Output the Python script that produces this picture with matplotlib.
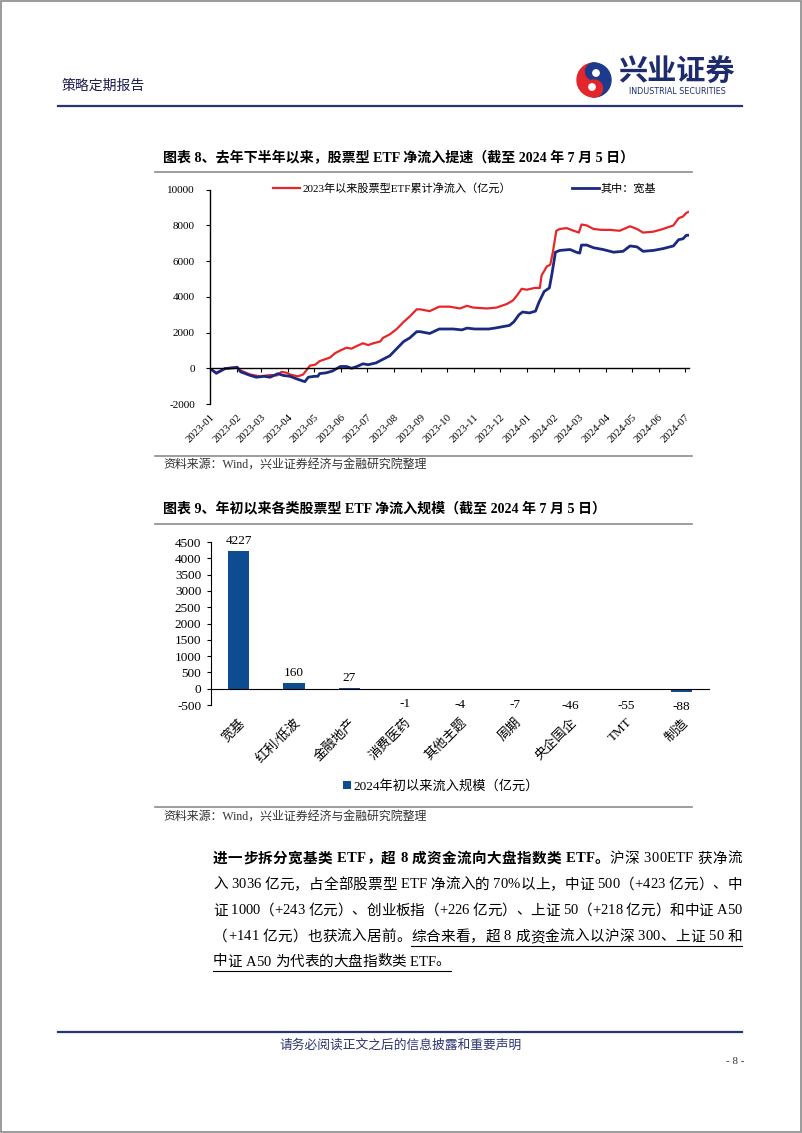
import matplotlib
matplotlib.use("Agg")
import numpy as np
import pandas as pd
import matplotlib.pyplot as plt
from matplotlib.patches import Wedge, Circle, Rectangle

W, H = 802, 1133
plt.rcParams['font.family'] = ['Liberation Serif', 'Noto Sans CJK SC']
plt.rcParams['axes.unicode_minus'] = False

# chart 8: cumulative net inflow of equity ETFs since 2023 (100m yuan)
red_dates = ['2023-01-03', '2023-01-08', '2023-01-18', '2023-01-29', '2023-02-01', '2023-02-04',
             '2023-02-16', '2023-02-27', '2023-03-11', '2023-03-19', '2023-03-24', '2023-03-30',
             '2023-04-03', '2023-04-12', '2023-04-18', '2023-04-22', '2023-04-26', '2023-05-02',
             '2023-05-07', '2023-05-13', '2023-05-19', '2023-05-25', '2023-05-31', '2023-06-07',
             '2023-06-13', '2023-06-19', '2023-06-26', '2023-07-02', '2023-07-08', '2023-07-16',
             '2023-07-19', '2023-07-27', '2023-08-04', '2023-08-12', '2023-08-19', '2023-08-27',
             '2023-08-31', '2023-09-11', '2023-09-22', '2023-10-04', '2023-10-16', '2023-10-24',
             '2023-10-31', '2023-11-16', '2023-11-27', '2023-12-09', '2023-12-16', '2023-12-21',
             '2023-12-26', '2024-01-01', '2024-01-10', '2024-01-16', '2024-01-18', '2024-01-24',
             '2024-01-28', '2024-01-31', '2024-02-04', '2024-02-08', '2024-02-16', '2024-02-24',
             '2024-03-01', '2024-03-04', '2024-03-10', '2024-03-18', '2024-03-27', '2024-04-06',
             '2024-04-17', '2024-04-29', '2024-05-07', '2024-05-14', '2024-05-26', '2024-06-06',
             '2024-06-18', '2024-06-24', '2024-06-29', '2024-07-03', '2024-07-05']
red_vals = [-100, -250, 0, 50, 80, -100, -350, -450, -380, -400, -200, -250,
            -350, -450, -350, -100, 150, 200, 400, 500, 600, 850, 1000, 1150,
            1100, 1250, 1400, 1300, 1400, 1500, 1700, 1900, 2200, 2600, 2900, 3300,
            3300, 3200, 3450, 3450, 3350, 3500, 3400, 3350, 3400, 3600, 3800, 4100,
            4450, 4400, 4500, 4500, 5200, 5700, 5800, 6500, 7700, 7800, 7850, 7700,
            7600, 8050, 8000, 7800, 7750, 7750, 7700, 7950, 7800, 7600, 7650, 7800,
            8000, 8400, 8500, 8700, 8750]

blue_dates = ['2023-01-03', '2023-01-08', '2023-01-18', '2023-01-29', '2023-02-01', '2023-02-05',
              '2023-02-16', '2023-02-23', '2023-03-04', '2023-03-11', '2023-03-20', '2023-03-26',
              '2023-04-03', '2023-04-11', '2023-04-20', '2023-04-24', '2023-05-01', '2023-05-05',
              '2023-05-07', '2023-05-15', '2023-05-22', '2023-05-31', '2023-06-07', '2023-06-13',
              '2023-06-19', '2023-06-26', '2023-07-02', '2023-07-11', '2023-07-19', '2023-07-27',
              '2023-08-04', '2023-08-12', '2023-08-19', '2023-08-27', '2023-08-31', '2023-09-11',
              '2023-09-22', '2023-10-08', '2023-10-18', '2023-10-24', '2023-11-02', '2023-11-18',
              '2023-11-25', '2023-12-12', '2023-12-17', '2023-12-23', '2023-12-27', '2024-01-04',
              '2024-01-11', '2024-01-15', '2024-01-21', '2024-01-27', '2024-01-30', '2024-02-03',
              '2024-02-08', '2024-02-20', '2024-02-27', '2024-03-02', '2024-03-04', '2024-03-10',
              '2024-03-18', '2024-03-29', '2024-04-10', '2024-04-21', '2024-04-29', '2024-05-07',
              '2024-05-14', '2024-05-26', '2024-06-06', '2024-06-18', '2024-06-24', '2024-06-29',
              '2024-07-03', '2024-07-05']
blue_vals = [-100, -280, -20, 30, 50, -200, -400, -500, -450, -500, -300, -400,
             -450, -600, -750, -500, -450, -450, -300, -250, -150, 100, 100, 0,
             100, 250, 200, 300, 500, 700, 1100, 1500, 1700, 2050, 2050, 1950,
             2200, 2200, 2150, 2250, 2200, 2200, 2250, 2400, 2600, 3000, 3150, 3100,
             3200, 3700, 4300, 4500, 5300, 6500, 6600, 6650, 6500, 6450, 6900, 6900,
             6750, 6650, 6500, 6550, 6850, 6800, 6550, 6600, 6700, 6850, 7200, 7250,
             7450, 7450]

month_ticks = pd.date_range('2023-01-01', '2024-07-01', freq='MS')
line_yticks = list(range(-2000, 10001, 2000))

# chart 9: inflow by ETF type since start of 2024 (100m yuan)
categories = ['宽基', '红利/低波', '金融地产', '消费医药', '其他主题', '周期', '央企国企', 'TMT', '制造']
flows = [4227, 160, 27, -1, -4, -7, -46, -55, -88]
bar_yticks = list(range(-500, 4501, 500))

# body paragraph: (text, weight, underline)
para_lines = [
    [("进一步拆分宽基类 ETF，超 8 成资金流向大盘指数类 ETF。", "bold", False),
     ("沪深 300ETF 获净流", "normal", False)],
    [("入 3036 亿元，占全部股票型 ETF 净流入的 70%以上，中证 500（+423 亿元）、中", "normal", False)],
    [("证 1000（+243 亿元）、创业板指（+226 亿元）、上证 50（+218 亿元）和中证 A50", "normal", False)],
    [("（+141 亿元）也获流入居前。", "normal", False),
     ("综合来看，超 8 成资金流入以沪深 300、上证 50 和", "normal", True)],
    [("中证 A50 为代表的大盘指数类 ETF。", "normal", True)],
]

NAVY = '#2B3472'
RED = '#E8262A'
BLUE = '#1B2A80'
BAR = '#0E4C92'

fig = plt.figure(figsize=(W / 100, H / 100), dpi=100)

# page layer in pixel coordinates
ov = fig.add_axes([0, 0, 1, 1], zorder=-1)
ov.set_xlim(0, W)
ov.set_ylim(H, 0)
ov.axis('off')

ov.add_patch(Rectangle((0.5, 0.5), W - 1.5, H - 1.5, fill=False, edgecolor='#8a8a8a', lw=1.2))

# header
ov.text(62, 86, '策略定期报告', fontsize=10, color='#1c1c50', va='center')
# logo: red / blue swirl
ov.add_patch(Wedge((594, 80), 17, 90, 270, color='#E3262B'))
ov.add_patch(Wedge((594, 80), 17, 270, 90, color='#1E3A8C'))
ov.add_patch(Circle((594, 71.5), 8.5, color='#1E3A8C'))
ov.add_patch(Circle((594, 88.5), 8.5, color='#E3262B'))
ov.add_patch(Circle((596, 73), 3.2, color='white'))
ov.add_patch(Circle((592, 87), 3.2, color='white'))
ov.text(618, 73, '兴业证券', fontsize=21, fontweight='bold', color='#1E2C6E', va='center')
ov.text(677, 92, 'INDUSTRIAL SECURITIES', fontsize=5.8, color='#1E2C6E', va='center', ha='center',
        family='DejaVu Sans')
ov.plot([58, 742], [106, 106], color=NAVY, lw=1.6)

# titles, rules and sources
ov.text(163, 158, '图表 8、去年下半年以来，股票型 ETF 净流入提速（截至 2024 年 7 月 5 日）',
        fontsize=10.1, fontweight='bold', va='center')
ov.plot([155, 692], [172, 172], color='#8c8c8c', lw=1.2)
ov.plot([155, 692], [456, 456], color='#8c8c8c', lw=1.2)
ov.text(163, 466, '资料来源：Wind，兴业证券经济与金融研究院整理', fontsize=8.6, color='#333333', va='center')

ov.text(163, 509, '图表 9、年初以来各类股票型 ETF 净流入规模（截至 2024 年 7 月 5 日）',
        fontsize=10.1, fontweight='bold', va='center')
ov.plot([155, 692], [524, 524], color='#8c8c8c', lw=1.2)
ov.plot([155, 692], [807, 807], color='#8c8c8c', lw=1.2)
ov.text(163, 818, '资料来源：Wind，兴业证券经济与金融研究院整理', fontsize=8.6, color='#333333', va='center')

# footer
ov.plot([58, 742], [1032, 1032], color=NAVY, lw=1.6)
ov.text(401, 1045, '请务必阅读正文之后的信息披露和重要声明', fontsize=9.2, color=NAVY, ha='center', va='center')
ov.text(735, 1061, '- 8 -', fontsize=8, color='#333333', ha='center', va='center')

# line chart
ax1 = fig.add_axes([210.3 / W, 1 - 404 / H, 478.7 / W, 214.3 / H])
ax1.plot(pd.to_datetime(red_dates), red_vals, color=RED, lw=1.6, label='2023年以来股票型ETF累计净流入（亿元）')
ax1.plot(pd.to_datetime(blue_dates), blue_vals, color=BLUE, lw=2.0, label='其中：宽基')
ax1.set_xlim(pd.Timestamp('2023-01-01'), pd.Timestamp('2024-07-06'))
ax1.set_ylim(-2000, 10000)
for s in ['top', 'right']:
    ax1.spines[s].set_visible(False)
ax1.spines['bottom'].set_position(('data', 0))
ax1.spines['bottom'].set_linewidth(1.0)
ax1.spines['left'].set_linewidth(1.0)
ax1.tick_params(axis='x', direction='out', length=3, width=0.8, pad=29, labelsize=7.8)
ax1.tick_params(axis='y', direction='out', length=3, width=0.8, pad=8, labelsize=8)
ax1.set_yticks(line_yticks)
ax1.set_xticks(month_ticks)
ax1.set_xticklabels(month_ticks.strftime('%Y-%m'))
for lab in ax1.get_xticklabels():
    lab.set_rotation(45)
    lab.set_ha('right')
    lab.set_va('top')
    lab.set_rotation_mode('anchor')
ax1.set_facecolor('none')
ax1.legend(loc='center', bbox_to_anchor=(465 / W, 1 - 188 / H), bbox_transform=fig.transFigure,
           ncol=2, frameon=False, fontsize=8, handlelength=2.4, columnspacing=5.5, handletextpad=0.2)

# bar chart
ax2 = fig.add_axes([211 / W, 1 - 705 / H, 498 / W, 163 / H])
xpos = np.arange(len(categories))
ax2.bar(xpos, flows, width=0.39, color=BAR, label='2024年初以来流入规模（亿元）')
ax2.set_xlim(-0.5, len(categories) - 0.5)
ax2.set_ylim(-500, 4500)
for s in ['top', 'right']:
    ax2.spines[s].set_visible(False)
ax2.spines['bottom'].set_position(('data', 0))
ax2.tick_params(axis='x', length=0, pad=20, labelsize=9.5)
ax2.tick_params(axis='y', direction='out', length=3, width=0.8, pad=4, labelsize=9.5)
ax2.set_yticks(bar_yticks)
ax2.set_xticks(xpos)
ax2.set_xticklabels(categories)
for lab in ax2.get_xticklabels():
    lab.set_rotation(45)
    lab.set_ha('right')
    lab.set_va('top')
    lab.set_rotation_mode('anchor')
ax2.set_facecolor('none')
for xi, v in zip(xpos, flows):
    if v >= 0:
        ax2.annotate(str(v), (xi, v), xytext=(0, 3), textcoords='offset points',
                     ha='center', va='bottom', fontsize=9.5)
    else:
        ax2.annotate(str(v), (xi, v), xytext=(0, -7), textcoords='offset points',
                     ha='center', va='top', fontsize=9.5)
ax2.legend(loc='center', bbox_to_anchor=(441 / W, 1 - 786 / H), bbox_transform=fig.transFigure,
           frameon=False, fontsize=9.5, handlelength=0.6, handleheight=0.6, handletextpad=0.2)

# body paragraph, justified line by line
PF = 10.5
X0, X1 = 213, 742
line_y = [859, 885, 911, 937, 962]
renderer = fig.canvas.get_renderer()
cache = {}


def char_w(ch, weight):
    key = (ch, weight)
    if key not in cache:
        if ch == ' ':
            a = ov.text(0, 0, 'a a', fontsize=PF, fontweight=weight)
            b = ov.text(0, 0, 'aa', fontsize=PF, fontweight=weight)
            cache[key] = a.get_window_extent(renderer).width - b.get_window_extent(renderer).width
            a.remove()
            b.remove()
        else:
            t = ov.text(0, 0, ch, fontsize=PF, fontweight=weight)
            cache[key] = t.get_window_extent(renderer).width
            t.remove()
    return cache[key]


for li, segs in enumerate(para_lines):
    chars = [(ch, wt, ul) for txt, wt, ul in segs for ch in txt]
    widths = [char_w(ch, wt) for ch, wt, ul in chars]
    total = sum(widths)
    last = li == len(para_lines) - 1
    gap = 0 if last else (X1 - X0 - total) / (len(chars) - 1)
    x = X0
    y = line_y[li]
    ul_start = None
    for (ch, wt, ul), w in zip(chars, widths):
        if ch != ' ':
            ov.text(x, y, ch, fontsize=PF, fontweight=wt, va='center', ha='left')
        if ul and ul_start is None:
            ul_start = x
        x += w
        if ul:
            ul_end = x
        x += gap
    if ul_start is not None:
        ov.plot([ul_start, ul_end], [y + 9, y + 9], color='black', lw=0.8)

fig.savefig('out.png', dpi=100)
